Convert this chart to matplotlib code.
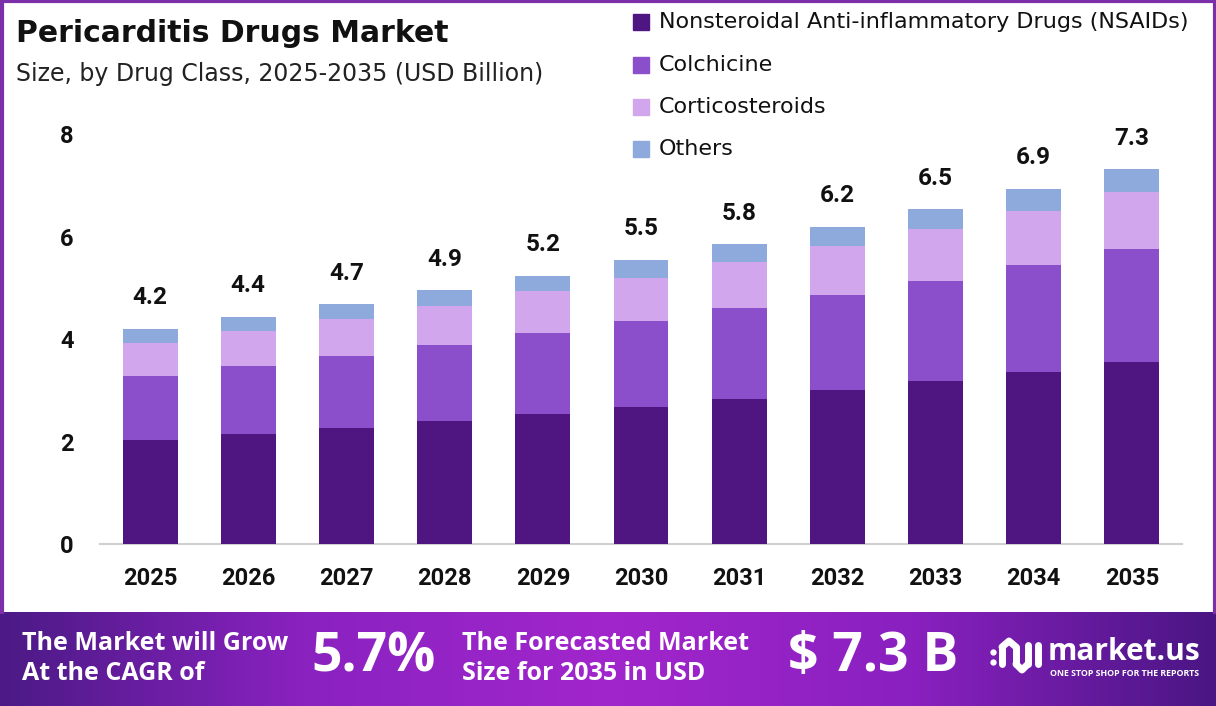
import numpy as np
import matplotlib
matplotlib.use("Agg")
import matplotlib.pyplot as plt
from matplotlib.patches import Rectangle
from matplotlib.colors import LinearSegmentedColormap

years = ["2025", "2026", "2027", "2028", "2029", "2030", "2031", "2032", "2033", "2034", "2035"]
nsaids = [2.03, 2.15, 2.27, 2.40, 2.55, 2.68, 2.83, 3.01, 3.18, 3.36, 3.55]
colchicine = [1.25, 1.33, 1.40, 1.48, 1.57, 1.68, 1.77, 1.85, 1.95, 2.09, 2.20]
corticosteroids = [0.65, 0.68, 0.72, 0.76, 0.81, 0.84, 0.90, 0.96, 1.01, 1.05, 1.11]
others = [0.27, 0.28, 0.29, 0.31, 0.31, 0.34, 0.35, 0.37, 0.39, 0.43, 0.45]
totals = [4.2, 4.4, 4.7, 4.9, 5.2, 5.5, 5.8, 6.2, 6.5, 6.9, 7.3]
series_names = ["Nonsteroidal Anti-inflammatory Drugs (NSAIDs)", "Colchicine", "Corticosteroids", "Others"]
colors = ["#4f1580", "#8b4fcc", "#d2a6ec", "#8eaadc"]
yticks = [0, 2, 4, 6, 8]

W, H = 1216, 706
fig = plt.figure(figsize=(W / 100, H / 100), dpi=100)
fig.patch.set_facecolor("white")

def fx(px):
    return px / W

def fy(py):
    return 1 - py / H

TITLE_FONT = ["DejaVu Sans"]
BAN_FONT = ["Open Sans", "DejaVu Sans"]
NUM_FONT = ["Roboto", "DejaVu Sans"]

# Main axes: x from 100 to 1182 px, y from 134 (value 8) to 544.3 (value 0)
ax = fig.add_axes([fx(100), fy(544.3), fx(1182) - fx(100), fy(134) - fy(544.3)])
x = np.arange(len(years))
bottom = np.zeros(len(years))
for vals, col, name in zip([nsaids, colchicine, corticosteroids, others], colors, series_names):
    ax.bar(x, vals, bottom=bottom, width=0.56, color=col, label=name, zorder=3)
    bottom += np.array(vals)

for xi, t, b in zip(x, totals, bottom):
    ax.annotate(f"{t}", (xi, b), xytext=(0, 22.5), textcoords="offset points",
                ha="center", va="center", fontsize=17.5, fontweight="bold",
                family=NUM_FONT, color="#111111", annotation_clip=False)

ax.set_xlim(-0.51, 10.51)
ax.set_ylim(0, 8)
ax.set_xticks(x)
ax.set_xticklabels(years, fontsize=17, fontweight="bold", family=NUM_FONT, color="#111111")
ax.set_yticks(yticks)
ax.set_yticklabels([str(v) for v in yticks], fontsize=17, fontweight="bold", family=NUM_FONT, color="#111111")
ax.tick_params(axis="both", length=0)
ax.tick_params(axis="x", pad=16)
ax.tick_params(axis="y", pad=19)
for s in ["top", "right", "left"]:
    ax.spines[s].set_visible(False)
ax.spines["bottom"].set_color("#d0d0d0")
ax.spines["bottom"].set_linewidth(1.5)
ax.set_facecolor("none")

# Titles
fig.text(fx(16), fy(33), "Pericarditis Drugs Market", fontsize=21.5, fontweight="bold",
         family=TITLE_FONT, color="#111111", va="center", ha="left")
fig.text(fx(16), fy(74), "Size, by Drug Class, 2025-2035 (USD Billion)", fontsize=17,
         family=TITLE_FONT, color="#222222", va="center", ha="left")

# Legend (manual)
leg_rows = [22, 65, 107, 149]
for name, col, ry in zip(series_names, colors, leg_rows):
    fig.patches.append(Rectangle((fx(633), fy(ry + 8)), fx(16), fy(ry - 8) - fy(ry + 8),
                                 transform=fig.transFigure, color=col, zorder=5))
    fig.text(fx(659), fy(ry), name, fontsize=16, family=TITLE_FONT,
             color="#111111", va="center", ha="left")

# Purple frame around chart area
frame_col = "#7b2fa8"
fig.add_artist(plt.Line2D([fx(1.5), fx(1.5)], [fy(612), fy(0)], color=frame_col, lw=3, transform=fig.transFigure))
fig.add_artist(plt.Line2D([fx(1214.5), fx(1214.5)], [fy(612), fy(0)], color=frame_col, lw=3, transform=fig.transFigure))
fig.add_artist(plt.Line2D([fx(0), fx(W)], [fy(1), fy(1)], color=frame_col, lw=3, transform=fig.transFigure))

# Banner with gradient
bax = fig.add_axes([0, 0, 1, fy(612)])
cmap = LinearSegmentedColormap.from_list("ban", ["#4c1a86", "#8a22c0", "#a126cc", "#8a20c0", "#4a1684"])
grad = np.linspace(0, 1, 400).reshape(1, -1)
bax.imshow(grad, aspect="auto", cmap=cmap, extent=[0, 1, 0, 1])
bax.set_xlim(0, 1)
bax.set_ylim(0, 1)
bax.axis("off")

fig.text(fx(22), fy(643), "The Market will Grow", fontsize=18, fontweight="bold", family=BAN_FONT,
         color="white", va="center", ha="left")
fig.text(fx(22), fy(673), "At the CAGR of", fontsize=18, fontweight="bold", family=BAN_FONT,
         color="white", va="center", ha="left")
fig.text(fx(311), fy(657), "5.7%", fontsize=38.5, fontweight="bold", family=BAN_FONT,
         color="white", va="center", ha="left")
fig.text(fx(462), fy(643), "The Forecasted Market", fontsize=18, fontweight="bold", family=BAN_FONT,
         color="white", va="center", ha="left")
fig.text(fx(462), fy(673), "Size for 2035 in USD", fontsize=18, fontweight="bold", family=BAN_FONT,
         color="white", va="center", ha="left")
fig.text(fx(788), fy(657), "$ 7.3 B", fontsize=38.5, fontweight="bold", family=BAN_FONT,
         color="white", va="center", ha="left")

# Logo
fig.text(fx(1048), fy(652), "market.us", fontsize=21.5, fontweight="bold", family=BAN_FONT,
         color="white", va="center", ha="left")
fig.text(fx(1050), fy(673), "ONE STOP SHOP FOR THE REPORTS", fontsize=6.3, fontweight="bold",
         family=BAN_FONT, color="white", va="center", ha="left")
# simple logo icon
for (x0, y0, x1, y1) in [(1002, 647, 1002, 664), (1016, 647, 1016, 664), (1028, 645, 1028, 664), (1038, 645, 1038, 664)]:
    fig.add_artist(plt.Line2D([fx(x0), fx(x1)], [fy(y0), fy(y1)], color="white", lw=5,
                              solid_capstyle="round", transform=fig.transFigure))
fig.add_artist(plt.Line2D([fx(1002), fx(1009), fx(1016)], [fy(647), fy(641), fy(647)], color="white", lw=5,
                          solid_capstyle="round", transform=fig.transFigure))
fig.add_artist(plt.Line2D([fx(1016), fx(1022), fx(1028)], [fy(664), fy(670), fy(664)], color="white", lw=5,
                          solid_capstyle="round", transform=fig.transFigure))
fig.add_artist(plt.Line2D([fx(993)], [fy(652)], marker="o", color="white", ms=3.5, transform=fig.transFigure))
fig.add_artist(plt.Line2D([fx(993)], [fy(662)], marker="o", color="white", ms=3.5, transform=fig.transFigure))

fig.savefig("out.png", dpi=100)
